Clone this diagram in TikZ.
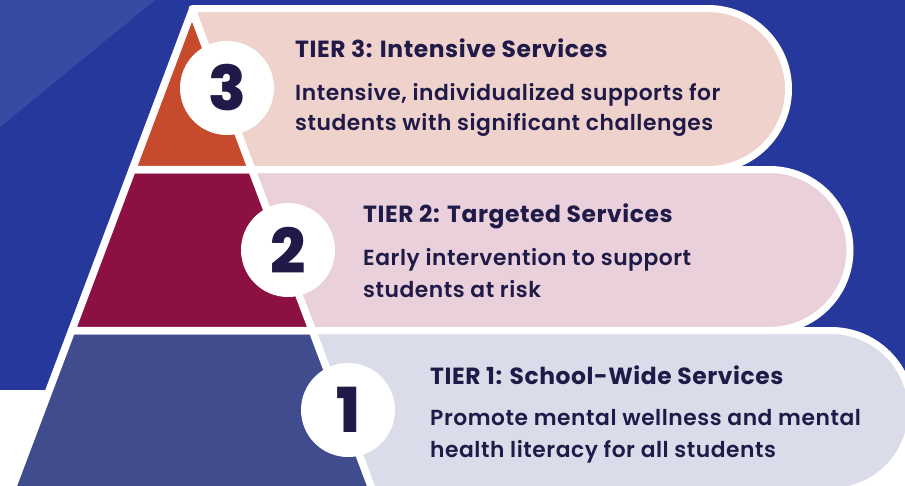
\documentclass[tikz,border=0pt]{standalone}
\usepackage{fontspec}
\setmainfont{Poppins}[UprightFont=* SemiBold, BoldFont=* Bold]
\newfontfamily\numfont{Poppins}[UprightFont=* ExtraBold]
\newfontfamily\headfont{Poppins}[UprightFont=* Bold, LetterSpace=2.5]
\newfontfamily\bodyfont{Poppins}[UprightFont=* SemiBold, LetterSpace=2.5]
\definecolor{bg_blue}{RGB}{38, 56, 155}
\definecolor{bg_light}{RGB}{57, 74, 163}
\definecolor{t3_fill}{RGB}{198, 74, 44}
\definecolor{t2_fill}{RGB}{140, 16, 66}
\definecolor{t1_fill}{RGB}{65, 76, 143}
\definecolor{p3_fill}{RGB}{240, 210, 204}
\definecolor{p2_fill}{RGB}{233, 208, 218}
\definecolor{p1_fill}{RGB}{219, 220, 233}
\definecolor{ink}{RGB}{32, 26, 72}
\tikzstyle{pill}=[draw=white,line width=7pt,line join=round]
\tikzstyle{tier}=[draw=white,line width=7.5pt,line join=round]
\tikzstyle{num}=[circle,fill=white,minimum size=94pt,inner sep=0pt,
  text=ink,font=\numfont\fontsize{62}{62}\selectfont]
\tikzstyle{head}=[anchor=base west,inner sep=0pt,text=ink,
  font=\headfont\fontsize{23.4}{23.4}\selectfont]
\tikzstyle{body}=[anchor=base west,inner sep=0pt,text=ink,
  font=\bodyfont\fontsize{21.8}{21.8}\selectfont]

\begin{document}
\begin{tikzpicture}[x=1pt,y=-1pt]
  \useasboundingbox (0,0) rectangle (905,485);
  \clip (0,0) rectangle (905,485);
  % background
  \fill[white] (0,0) rectangle (905,485);
  \fill[bg_blue] (0,0) rectangle (905,390);
  \fill[bg_light] (0,0) -- (155,0) -- (0,127) -- cycle;
  % pills behind the pyramid
  \path[pill,fill=p1_fill] (312.3,330.5) -- (831,330.5)
    arc[start angle=-90,end angle=90,radius=80.5] -- (373,491.5) -- cycle;
  \path[pill,fill=p2_fill] (251.7,169.5) -- (769.5,169.5)
    arc[start angle=-90,end angle=90,radius=80.5] -- (312.3,330.5) -- cycle;
  \path[pill,fill=p3_fill] (192,8.5) -- (708,8.5)
    arc[start angle=-90,end angle=90,radius=80.5] -- (251.7,169.5) -- cycle;
  % pyramid
  \path[tier,fill=t1_fill] (71.7,330.5) -- (312.3,330.5) -- (373,491.5) -- (11,491.5) -- cycle;
  \path[tier,fill=t2_fill] (132.3,169.5) -- (251.7,169.5) -- (312.3,330.5) -- (71.7,330.5) -- cycle;
  \path[tier,fill=t3_fill] (192,11) -- (251.7,169.5) -- (132.3,169.5) -- cycle;
  % numbers
  \node [style=num] (c3) at (227, 88) {3};
  \node [style=num] (c2) at (288, 250) {2};
  \node [style=num] (c1) at (348, 410) {1};
  % texts
  \node [style=head] (h3) at (295, 57) {TIER 3: Intensive Services};
  \node [style=body] (b3a) at (295, 100) {Intensive, individualized supports for};
  \node [style=body] (b3b) at (295, 130) {students with significant challenges};
  \node [style=head] (h2) at (363, 222) {TIER 2: Targeted Services};
  \node [style=body] (b2a) at (363, 265) {Early intervention to support};
  \node [style=body] (b2b) at (363, 297) {students at risk};
  \node [style=head] (h1) at (430, 384) {TIER 1: School-Wide Services};
  \node [style=body] (b1a) at (430, 425) {Promote mental wellness and mental};
  \node [style=body] (b1b) at (430, 457) {health literacy for all students};
\end{tikzpicture}
\end{document}
